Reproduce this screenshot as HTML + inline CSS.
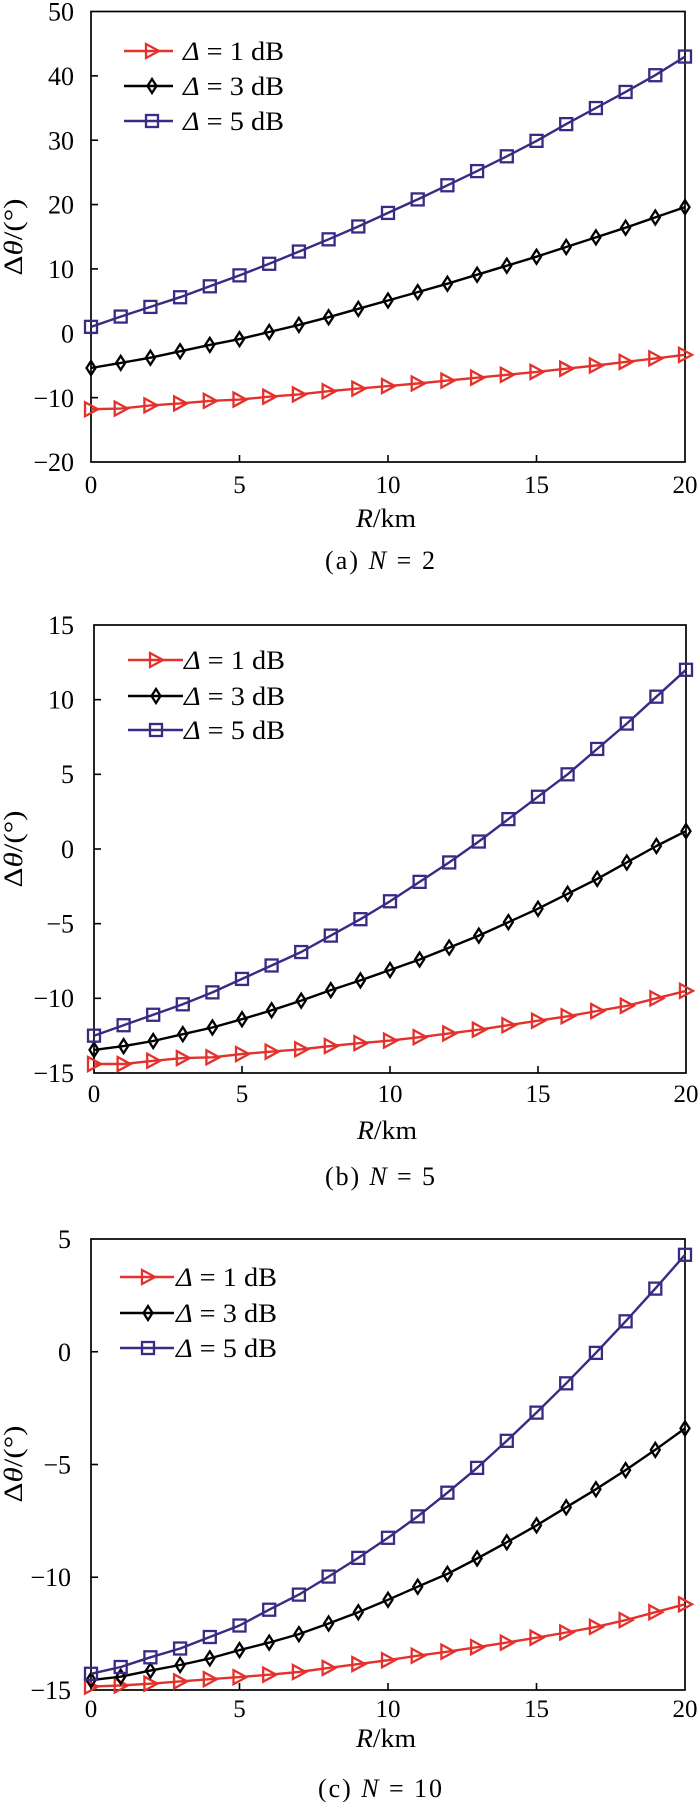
<!DOCTYPE html>
<html>
<head>
<meta charset="utf-8">
<style>
html,body{margin:0;padding:0;background:#fff;}
svg{display:block;}
text{font-family:"Liberation Serif","DejaVu Serif",serif;fill:#000;}
</style>
</head>
<body>
<svg id="s" width="700" height="1802" viewBox="0 0 700 1802" xmlns="http://www.w3.org/2000/svg">
<rect x="0" y="0" width="700" height="1802" fill="#fff"/>
<g id="plots"></g>

<!-- Panel (a) text -->
<g font-size="26" text-anchor="end">
<text x="74" y="20.5">50</text>
<text x="74" y="85">40</text>
<text x="74" y="149.5">30</text>
<text x="74" y="213.5">20</text>
<text x="74" y="278">10</text>
<text x="74" y="342.5">0</text>
<text x="74" y="407">−10</text>
<text x="74" y="471">−20</text>
</g>
<g font-size="25" text-anchor="middle">
<text x="91" y="493">0</text>
<text x="239.5" y="493">5</text>
<text x="388" y="493">10</text>
<text x="536.5" y="493">15</text>
<text x="685" y="493">20</text>
</g>
<text x="386" y="527" font-size="26" text-anchor="middle" textLength="60" lengthAdjust="spacingAndGlyphs"><tspan font-style="italic">R</tspan>/km</text>
<text x="380" y="569" font-size="26" text-anchor="middle" textLength="110" lengthAdjust="spacing">(a) <tspan font-style="italic">N</tspan> = 2</text>
<text transform="translate(22,237) rotate(-90)" font-size="26" text-anchor="middle" textLength="77" lengthAdjust="spacingAndGlyphs">Δ<tspan font-style="italic">θ</tspan>/(°)</text>
<g font-size="26">
<text x="183" y="60" textLength="101" lengthAdjust="spacingAndGlyphs"><tspan font-style="italic">Δ</tspan> = 1 dB</text>
<text x="183" y="95" textLength="101" lengthAdjust="spacingAndGlyphs"><tspan font-style="italic">Δ</tspan> = 3 dB</text>
<text x="183" y="130" textLength="101" lengthAdjust="spacingAndGlyphs"><tspan font-style="italic">Δ</tspan> = 5 dB</text>
</g>

<!-- Panel (b) text -->
<g font-size="26" text-anchor="end">
<text x="74" y="634">15</text>
<text x="74" y="708.5">10</text>
<text x="74" y="783">5</text>
<text x="74" y="858">0</text>
<text x="74" y="932.5">−5</text>
<text x="74" y="1007">−10</text>
<text x="74" y="1082">−15</text>
</g>
<g font-size="25" text-anchor="middle">
<text x="94" y="1102">0</text>
<text x="242" y="1102">5</text>
<text x="390" y="1102">10</text>
<text x="538" y="1102">15</text>
<text x="686" y="1102">20</text>
</g>
<text x="387" y="1139" font-size="26" text-anchor="middle" textLength="60" lengthAdjust="spacingAndGlyphs"><tspan font-style="italic">R</tspan>/km</text>
<text x="380" y="1185" font-size="26" text-anchor="middle" textLength="110" lengthAdjust="spacing">(b) <tspan font-style="italic">N</tspan> = 5</text>
<text transform="translate(22,849) rotate(-90)" font-size="26" text-anchor="middle" textLength="77" lengthAdjust="spacingAndGlyphs">Δ<tspan font-style="italic">θ</tspan>/(°)</text>
<g font-size="26">
<text x="184" y="669" textLength="101" lengthAdjust="spacingAndGlyphs"><tspan font-style="italic">Δ</tspan> = 1 dB</text>
<text x="184" y="705" textLength="101" lengthAdjust="spacingAndGlyphs"><tspan font-style="italic">Δ</tspan> = 3 dB</text>
<text x="184" y="739" textLength="101" lengthAdjust="spacingAndGlyphs"><tspan font-style="italic">Δ</tspan> = 5 dB</text>
</g>

<!-- Panel (c) text -->
<g font-size="26" text-anchor="end">
<text x="71" y="1248">5</text>
<text x="71" y="1361">0</text>
<text x="71" y="1473.5">−5</text>
<text x="71" y="1586">−10</text>
<text x="71" y="1699">−15</text>
</g>
<g font-size="25" text-anchor="middle">
<text x="91" y="1717">0</text>
<text x="239.5" y="1717">5</text>
<text x="388" y="1717">10</text>
<text x="536.5" y="1717">15</text>
<text x="685" y="1717">20</text>
</g>
<text x="386" y="1747" font-size="26" text-anchor="middle" textLength="60" lengthAdjust="spacingAndGlyphs"><tspan font-style="italic">R</tspan>/km</text>
<text x="380" y="1797" font-size="26" text-anchor="middle" textLength="124" lengthAdjust="spacing">(c) <tspan font-style="italic">N</tspan> = 10</text>
<text transform="translate(22,1464) rotate(-90)" font-size="26" text-anchor="middle" textLength="77" lengthAdjust="spacingAndGlyphs">Δ<tspan font-style="italic">θ</tspan>/(°)</text>
<g font-size="26">
<text x="176" y="1286" textLength="101" lengthAdjust="spacingAndGlyphs"><tspan font-style="italic">Δ</tspan> = 1 dB</text>
<text x="176" y="1322" textLength="101" lengthAdjust="spacingAndGlyphs"><tspan font-style="italic">Δ</tspan> = 3 dB</text>
<text x="176" y="1357" textLength="101" lengthAdjust="spacingAndGlyphs"><tspan font-style="italic">Δ</tspan> = 5 dB</text>
</g>
</svg>
<script>
(function(){
var NS="http://www.w3.org/2000/svg";
var g=document.getElementById("plots");
function el(n,a){var e=document.createElementNS(NS,n);for(var k in a)e.setAttribute(k,a[k]);g.appendChild(e);return e;}
var RED="#e4312b",BLK="#000000",PUR="#3a2a84";
var P=[
 {x0:91,x1:685,yt:11.5,yb:462,ymax:50,ymin:-20,ticks:[40,30,20,10,0,-10],
  leg:{x1:124,x2:173,m:152,y:[51,86,121]},
  r:[-11.8,-11.7,-11.2,-10.9,-10.5,-10.3,-9.85,-9.5,-9.0,-8.6,-8.2,-7.8,-7.35,-6.9,-6.45,-6.0,-5.5,-5.0,-4.45,-3.9,-3.35],
  k:[-5.4,-4.6,-3.8,-2.8,-1.8,-0.9,0.2,1.3,2.5,3.8,5.1,6.4,7.7,9.1,10.5,11.9,13.4,14.9,16.4,18.0,19.6],
  p:[1.0,2.6,4.1,5.6,7.3,9.0,10.8,12.7,14.6,16.6,18.7,20.8,23.0,25.2,27.5,29.9,32.5,35.0,37.5,40.1,43.0]},
 {x0:94,x1:686,yt:625,yb:1073,ymax:15,ymin:-15,ticks:[10,5,0,-5,-10],
  leg:{x1:128,x2:183,m:156,y:[660,696,730]},
  r:[-14.4,-14.4,-14.18,-14.0,-13.95,-13.73,-13.57,-13.41,-13.19,-13.0,-12.83,-12.6,-12.35,-12.1,-11.8,-11.5,-11.2,-10.85,-10.5,-10.0,-9.5],
  k:[-13.45,-13.2,-12.86,-12.4,-11.95,-11.4,-10.8,-10.15,-9.45,-8.8,-8.1,-7.4,-6.6,-5.8,-4.9,-4.0,-3.0,-2.0,-0.9,0.2,1.2],
  p:[-12.5,-11.8,-11.1,-10.4,-9.6,-8.7,-7.8,-6.9,-5.8,-4.7,-3.5,-2.2,-0.9,0.5,2.0,3.5,5.0,6.7,8.4,10.2,12.0]},
 {x0:91,x1:685,yt:1239,yb:1690,ymax:5,ymin:-15,ticks:[0,-5,-10],
  leg:{x1:120,x2:174,m:148,y:[1277,1313,1348]},
  r:[-14.85,-14.8,-14.72,-14.62,-14.52,-14.43,-14.32,-14.2,-14.02,-13.85,-13.68,-13.48,-13.3,-13.1,-12.9,-12.68,-12.45,-12.2,-11.9,-11.55,-11.2],
  k:[-14.56,-14.41,-14.14,-13.89,-13.6,-13.23,-12.9,-12.52,-12.05,-11.55,-11.0,-10.42,-9.85,-9.17,-8.45,-7.7,-6.9,-6.1,-5.25,-4.35,-3.4],
  p:[-14.28,-13.98,-13.55,-13.16,-12.65,-12.14,-11.44,-10.77,-9.97,-9.14,-8.25,-7.3,-6.25,-5.15,-3.95,-2.7,-1.4,-0.05,1.35,2.8,4.3]}
];
var MW=2.3;
function tri(x,y,c){el("path",{d:"M"+(x-6)+","+(y-7)+"L"+(x+7)+","+y+"L"+(x-6)+","+(y+7)+"Z",fill:"none",stroke:c,"stroke-width":MW});}
function dia(x,y,c){el("path",{d:"M"+x+","+(y-7)+"L"+(x+4.5)+","+y+"L"+x+","+(y+7)+"L"+(x-4.5)+","+y+"Z",fill:"none",stroke:c,"stroke-width":MW});}
function sq(x,y,c){el("rect",{x:x-6,y:y-6,width:12,height:12,fill:"none",stroke:c,"stroke-width":MW});}
P.forEach(function(p){
  var sx=(p.x1-p.x0)/20, sy=(p.yb-p.yt)/(p.ymax-p.ymin);
  function X(v){return p.x0+v*sx;} function Y(v){return p.yt+(p.ymax-v)*sy;}
  el("rect",{x:p.x0,y:p.yt,width:p.x1-p.x0,height:p.yb-p.yt,fill:"none",stroke:"#000","stroke-width":1.7});
  p.ticks.forEach(function(t){var y=Y(t);el("line",{x1:p.x0,y1:y,x2:p.x0+7,y2:y,stroke:"#000","stroke-width":1.6});});
  [5,10,15].forEach(function(t){var x=X(t);el("line",{x1:x,y1:p.yb,x2:x,y2:p.yb-7,stroke:"#000","stroke-width":1.6});});
  var S=[[p.r,RED,tri],[p.k,BLK,dia],[p.p,PUR,sq]];
  S.forEach(function(s){
    var d="";s[0].forEach(function(v,i){d+=(i?"L":"M")+X(i).toFixed(1)+","+Y(v).toFixed(1);});
    el("path",{d:d,fill:"none",stroke:s[1],"stroke-width":2.4,"stroke-linejoin":"round"});
    s[0].forEach(function(v,i){s[2](X(i),Y(v),s[1]);});
  });
  var L=p.leg;
  S.forEach(function(s,i){
    var y=L.y[i];
    el("line",{x1:L.x1,y1:y,x2:L.x2,y2:y,stroke:s[1],"stroke-width":2.4});
    s[2](L.m,y,s[1]);
  });
});
})();
</script>
</body>
</html>
